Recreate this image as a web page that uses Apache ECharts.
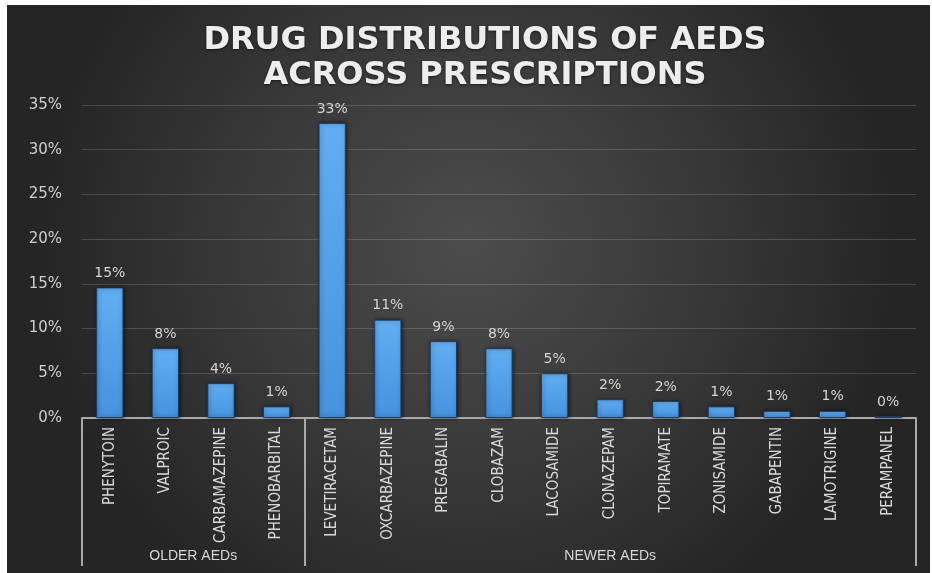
<!DOCTYPE html>
<html>
<head>
<meta charset="utf-8">
<title>Drug distributions of AEDs across prescriptions</title>
<script src="https://cdn.jsdelivr.net/npm/echarts@6/dist/echarts.min.js"></script>
<style>
  html, body { margin: 0; padding: 0; background: #ffffff; }
  #chart { width: 932px; height: 573px; }
</style>
</head>
<body>
<div id="chart"></div>
<script>
// Drugs in display order (older AEDs first, then newer AEDs)
const drugs = [
  'PHENYTOIN', 'VALPROIC', 'CARBAMAZEPINE', 'PHENOBARBITAL',
  'LEVETIRACETAM', 'OXCARBAZEPINE', 'PREGABALIN', 'CLOBAZAM', 'LACOSAMIDE',
  'CLONAZEPAM', 'TOPIRAMATE', 'ZONISAMIDE', 'GABAPENTIN', 'LAMOTRIGINE', 'PERAMPANEL'
];
// Share of prescriptions, percent
const shares = [14.6, 7.8, 3.9, 1.3, 33.0, 11.0, 8.6, 7.8, 5.0, 2.1, 1.9, 1.3, 0.8, 0.8, 0.2];
// Drug groups and how many drugs each group spans
const groupNames = ['OLDER AEDs', 'NEWER AEDs'];
const groupSizes = [4, 11];
// Value axis ticks, percent
const yTicks = [0, 5, 10, 15, 20, 25, 30, 35];

// Group boundaries and centres on a 0..N scale
const boundaries = [0];
const centres = [];
groupSizes.forEach((n) => {
  const start = boundaries[boundaries.length - 1];
  centres.push(start + n / 2);
  boundaries.push(start + n);
});

const chart = echarts.init(document.getElementById('chart'), null, { renderer: 'canvas' });

const lineGrey = '#a9a9a9';
const textGrey = '#d8d8d8';

chart.setOption({
  backgroundColor: '#ffffff',
  animation: false,
  graphic: [{
    type: 'rect',
    z: -100,
    silent: true,
    shape: { x: 7, y: 5, width: 923, height: 568 },
    style: {
      fill: new echarts.graphic.RadialGradient(0.5, 0.42, 0.75, [
        { offset: 0, color: '#4c4c4c' },
        { offset: 0.55, color: '#383838' },
        { offset: 1, color: '#252525' }
      ])
    }
  }],
  title: {
    text: 'DRUG DISTRIBUTIONS OF AEDS\nACROSS PRESCRIPTIONS',
    left: 480,
    top: 18,
    textAlign: 'center',
    textStyle: {
      fontFamily: 'DejaVu Sans',
      fontWeight: 'bold',
      fontSize: 32,
      lineHeight: 35,
      color: '#ededed',
      textShadowColor: 'rgba(0,0,0,0.6)',
      textShadowBlur: 3,
      textShadowOffsetY: 1
    }
  },
  grid: { left: 82, right: 16, top: 105, bottom: 155, containLabel: false },
  xAxis: [{
    type: 'category',
    data: drugs,
    position: 'bottom',
    axisLine: { show: true, lineStyle: { color: lineGrey, width: 2 } },
    axisTick: { show: false },
    axisLabel: {
      rotate: 90,
      margin: 9,
      interval: 0,
      fontFamily: '"Liberation Sans Narrow", "DejaVu Sans Condensed", "Liberation Sans", sans-serif',
      fontSize: 15,
      color: textGrey
    },
    splitLine: { show: false }
  }, {
    type: 'value',
    min: 0,
    max: drugs.length,
    position: 'bottom',
    axisLine: { show: false },
    axisTick: {
      show: true,
      customValues: boundaries,
      length: 148,
      lineStyle: { color: lineGrey, width: 2 }
    },
    axisLabel: {
      customValues: centres,
      margin: 131,
      fontFamily: '"Liberation Sans", sans-serif',
      fontSize: 14,
      color: textGrey,
      formatter: (v) => groupNames[centres.indexOf(v)] || ''
    },
    splitLine: { show: false }
  }],
  yAxis: {
    type: 'value',
    min: yTicks[0],
    max: yTicks[yTicks.length - 1],
    interval: yTicks[1] - yTicks[0],
    axisLine: { show: false },
    axisTick: { show: false },
    axisLabel: {
      margin: 20,
      fontFamily: 'DejaVu Sans',
      fontSize: 15,
      color: '#cfcfcf',
      formatter: '{value}%'
    },
    splitLine: { lineStyle: { color: 'rgba(255,255,255,0.16)', width: 1 } }
  },
  series: [{
    type: 'bar',
    data: shares,
    barWidth: '49%',
    itemStyle: {
      color: new echarts.graphic.LinearGradient(0, 0, 0, 1, [
        { offset: 0, color: '#62aef2' },
        { offset: 1, color: '#4692de' }
      ]),
      borderColor: 'rgba(25,55,95,0.9)',
      borderWidth: 1,
      shadowColor: 'rgba(0,0,0,0.55)',
      shadowBlur: 4,
      shadowOffsetX: 1
    },
    label: {
      show: true,
      position: 'top',
      distance: 7,
      fontFamily: 'DejaVu Sans',
      fontSize: 14,
      color: '#d4d4d4',
      formatter: (p) => Math.round(p.value) + '%'
    }
  }]
});
</script>
</body>
</html>
